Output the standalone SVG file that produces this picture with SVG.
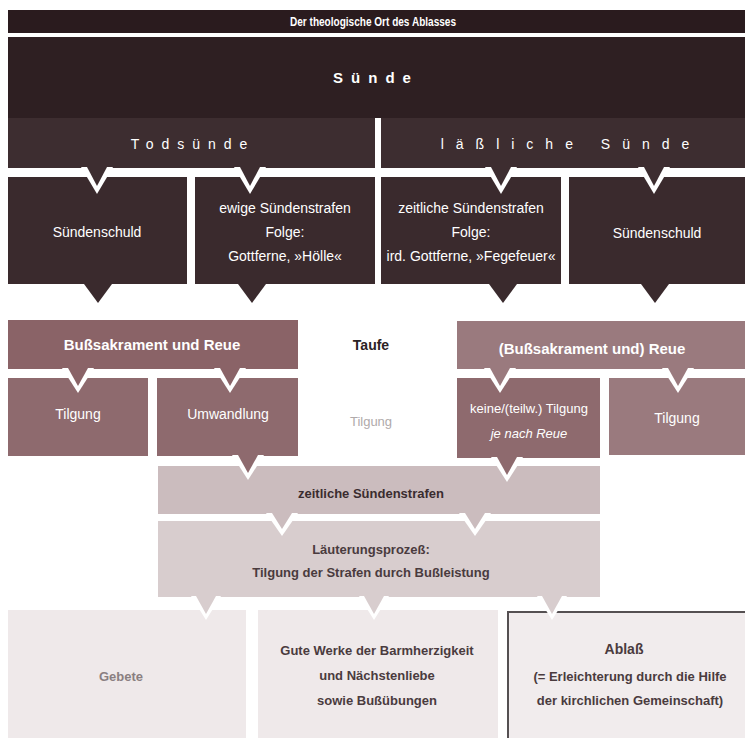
<svg xmlns="http://www.w3.org/2000/svg" width="745" height="738" viewBox="0 0 745 738">
<style>
text{font-family:"Liberation Sans Narrow","Liberation Sans",Arial,sans-serif;text-anchor:middle;font-stretch:condensed}
.w{fill:#ffffff;font-size:14px}
.wb{fill:#ffffff;font-size:15px;font-weight:bold}
.sp{fill:#ffffff;font-size:14px;letter-spacing:8px}
.d{fill:#4a3b3e;font-size:13px;font-weight:bold}
.dk{fill:#2b2224;font-size:14px;font-weight:bold}
.wh{fill:#ffffff}
</style>
<rect width="745" height="738" fill="#ffffff"/>
<g id="title"><rect x="8" y="10" width="737" height="23" fill="#2a1b1e"/><text x="373" y="26" textLength="166" lengthAdjust="spacingAndGlyphs" style="fill:#ffffff;font-size:12px;font-weight:bold">Der theologische Ort des Ablasses</text></g>
<g id="suende"><rect x="8" y="37" width="737" height="81" fill="#2e1f22"/><text class="sp" x="376" y="83" style="font-size:15px;font-weight:bold">Sünde</text></g>
<g id="todsuende"><rect x="8" y="118" width="367" height="50" fill="#3d2d30"/><text class="sp" x="193" y="149">Todsünde</text></g>
<g id="laessliche"><rect x="381" y="118" width="364" height="50" fill="#3d2d30"/><text class="sp" x="571" y="149" style="letter-spacing:12px">läßliche Sünde</text></g>
<g id="schuld1"><rect x="8" y="177" width="179" height="107" fill="#3a2a2d"/><text class="w" x="97" y="237">Sündenschuld</text></g>
<g id="ewige"><rect x="195" y="177" width="180" height="107" fill="#3a2a2d"/><text class="w" x="285" y="213">ewige Sündenstrafen</text><text class="w" x="285" y="237">Folge:</text><text class="w" x="285" y="261">Gottferne, »Hölle«</text></g>
<g id="zeitliche1"><rect x="381" y="177" width="180" height="107" fill="#3a2a2d"/><text class="w" x="471" y="213">zeitliche Sündenstrafen</text><text class="w" x="471" y="237">Folge:</text><text class="w" x="471" y="261">ird. Gottferne, »Fegefeuer«</text></g>
<g id="schuld2"><rect x="569" y="177" width="176" height="107" fill="#3a2a2d"/><text class="w" x="657" y="238">Sündenschuld</text></g>
<g id="buss1"><rect x="8" y="320" width="290" height="49" fill="#8a6367"/><text class="wb" x="152" y="350">Bußsakrament und Reue</text></g>
<g id="taufe"><text class="dk" x="371" y="350">Taufe</text><text x="371" y="426" style="fill:#b0aaab;font-size:13px">Tilgung</text></g>
<g id="buss2"><rect x="457" y="321" width="288" height="48" fill="#9a7a7e"/><text class="wb" x="592" y="354">(Bußsakrament und) Reue</text></g>
<g id="tilgung1"><rect x="8" y="378" width="140" height="78" fill="#8e6a6e"/><text class="w" x="78" y="419">Tilgung</text></g>
<g id="umwandlung"><rect x="157" y="378" width="141" height="78" fill="#8e6a6e"/><text class="w" x="228" y="419">Umwandlung</text></g>
<g id="keine"><rect x="457" y="378" width="143" height="80" fill="#8e6a6e"/><text class="w" x="529" y="413" style="font-size:13px">keine/(teilw.) Tilgung</text><text class="w" x="529" y="438" style="font-size:13px;font-style:italic">je nach Reue</text></g>
<g id="tilgung2"><rect x="609" y="378" width="136" height="77" fill="#9a7a7e"/><text class="w" x="677" y="423">Tilgung</text></g>
<g id="zeitliche2"><rect x="158" y="466" width="442" height="48" fill="#cbbcbe"/><text class="d" x="371" y="498" style="fill:#3a2c2f">zeitliche Sündenstrafen</text></g>
<g id="laeuterung"><rect x="158" y="521" width="442" height="76" fill="#d8cdce"/><text class="d" x="371" y="554">Läuterungsprozeß:</text><text class="d" x="371" y="577">Tilgung der Strafen durch Bußleistung</text></g>
<g id="gebete"><rect x="8" y="610" width="238" height="128" fill="#efe9ea"/><text class="d" x="121" y="681" style="fill:#8a7f81">Gebete</text></g>
<g id="werke"><rect x="258" y="610" width="240" height="128" fill="#efe9ea"/><text class="d" x="377" y="655">Gute Werke der Barmherzigkeit</text><text class="d" x="377" y="680">und Nächstenliebe</text><text class="d" x="377" y="705">sowie Bußübungen</text></g>
<g id="ablass"><rect x="507" y="611" width="238" height="127" fill="#f1eced"/><path d="M508 738 V612 H745" fill="none" stroke="#555052" stroke-width="2"/><text class="d" x="624" y="654" style="font-size:14px">Ablaß</text><text class="d" x="630" y="681">(= Erleichterung durch die Hilfe</text><text class="d" x="630" y="705">der kirchlichen Gemeinschaft)</text></g>
<g id="connectors">
<polygon class="wh" points="81,167 113,167 97,194"/><polygon fill="#3d2d30" points="87,167 107,167 97,186"/>
<polygon class="wh" points="234,167 266,167 250,194"/><polygon fill="#3d2d30" points="240,167 260,167 250,186"/>
<polygon class="wh" points="485,167 517,167 501,194"/><polygon fill="#3d2d30" points="491,167 511,167 501,186"/>
<polygon class="wh" points="638,167 670,167 654,194"/><polygon fill="#3d2d30" points="644,167 664,167 654,186"/>
<polygon fill="#3a2a2d" points="84,284 112,284 98,303"/>
<polygon fill="#3a2a2d" points="238,284 266,284 252,303"/>
<polygon fill="#3a2a2d" points="489,284 517,284 503,303"/>
<polygon fill="#3a2a2d" points="641,284 669,284 655,303"/>
<polygon class="wh" points="62,368 94,368 78,393"/><polygon fill="#8a6367" points="68,368 88,368 78,386"/>
<polygon class="wh" points="214,368 246,368 230,393"/><polygon fill="#8a6367" points="220,368 240,368 230,386"/>
<polygon class="wh" points="484,368 516,368 500,393"/><polygon fill="#9a7a7e" points="490,368 510,368 500,386"/>
<polygon class="wh" points="662,368 694,368 678,393"/><polygon fill="#9a7a7e" points="668,368 688,368 678,386"/>
<polygon class="wh" points="232,455 264,455 248,480"/><polygon fill="#8e6a6e" points="238,455 258,455 248,473"/>
<polygon class="wh" points="491,457 523,457 507,482"/><polygon fill="#8e6a6e" points="497,457 517,457 507,475"/>
<polygon class="wh" points="266,513 298,513 282,536"/><polygon fill="#cbbcbe" points="272,513 292,513 282,529"/>
<polygon class="wh" points="459,513 491,513 475,536"/><polygon fill="#cbbcbe" points="465,513 485,513 475,529"/>
<polygon class="wh" points="191,596 221,596 206,620"/><polygon fill="#d8cdce" points="196,596 216,596 206,614"/>
<polygon class="wh" points="359,596 389,596 374,620"/><polygon fill="#d8cdce" points="364,596 384,596 374,614"/>
<polygon class="wh" points="537,596 567,596 552,620"/><polygon fill="#d8cdce" points="542,596 562,596 552,614"/>
</g>
</svg>
